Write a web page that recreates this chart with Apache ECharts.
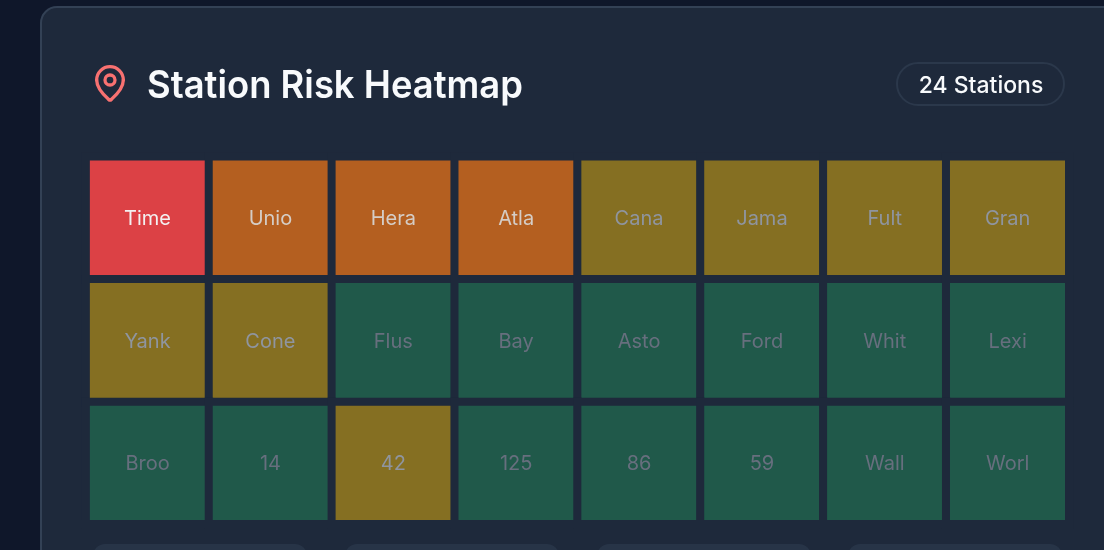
<!DOCTYPE html>
<html>
<head>
<meta charset="utf-8">
<style>html,body{margin:0;padding:0;background:#0f172a;overflow:hidden}#c{width:1104px;height:550px}</style>
<script src="https://cdn.jsdelivr.net/npm/echarts@6/dist/echarts.min.js"></script>
</head>
<body>
<div id="c"></div>
<script>
const stations = ['Time','Unio','Hera','Atla','Cana','Jama','Fult','Gran',
                  'Yank','Cone','Flus','Bay','Asto','Ford','Whit','Lexi',
                  'Broo','14','42','125','86','59','Wall','Worl'];
const riskLevels = [3,2,2,2,1,1,1,1,
                    1,1,0,0,0,0,0,0,
                    0,0,1,0,0,0,0,0];
const columns = ['1','2','3','4','5','6','7','8'];
const rows = ['1','2','3'];
const titleText = 'Station Risk Heatmap';
const badgeText = '24 Stations';
const cellColors = ['#20594a','#856f22','#b45f20','#dc4145'];
const textColors = ['#676f7e','#8f95a0','#d5cdc6','#f3f0f0'];
const CARD = '#1e293b';

const cells = stations.map((name, i) => {
  const lvl = riskLevels[i];
  return {
    value: [i % 8, Math.floor(i / 8), lvl],
    name: name,
    itemStyle: { color: cellColors[lvl] },
    label: { color: textColors[lvl] }
  };
});

const chart = echarts.init(document.getElementById('c'), null, {renderer:'canvas'});
const lowerCards = [93, 345, 597, 848].map(x => ({
  type:'rect', z:1, silent:true,
  shape:{x:x, y:544, width:214, height:40, r:12},
  style:{fill:'#273447'}
}));
const pinStyle = {fill:'none',stroke:'#f87171',lineWidth:3.3,lineCap:'round'};
chart.setOption({
  animation:false,
  backgroundColor:'#0f172a',
  grid:{left:86.1,top:156.7,width:983,height:368},
  xAxis:{type:'category',data:columns,show:false},
  yAxis:{type:'category',data:rows,inverse:true,show:false},
  series:[{
    type:'heatmap',
    data:cells,
    z:5,
    itemStyle:{borderColor:CARD,borderWidth:8},
    label:{show:true,formatter:p=>p.name,fontFamily:'Inter',fontSize:20,fontWeight:400,offset:[0,1]},
    emphasis:{disabled:true}
  }],
  graphic:[
    {type:'rect',z:0,silent:true,shape:{x:41,y:7,width:1100,height:600,r:16},
      style:{fill:CARD,stroke:'#334155',lineWidth:2}},
    ...lowerCards,
    {type:'rect',z:10,silent:true,shape:{x:1065,y:150,width:8,height:380},style:{fill:CARD}},
    {type:'rect',z:10,silent:true,shape:{x:80,y:520,width:993,height:8},style:{fill:CARD}},
    {type:'arc',z:3,silent:true,shape:{cx:110,cy:80,r:13.33,startAngle:Math.PI,endAngle:2*Math.PI,clockwise:true},style:pinStyle},
    {type:'bezierCurve',z:3,silent:true,shape:{x1:123.33,y1:80,cpx1:123.33,cpy1:88.32,cpx2:114.1,cpy2:97,x2:111,y2:99.67},style:pinStyle},
    {type:'bezierCurve',z:3,silent:true,shape:{x1:96.67,y1:80,cpx1:96.67,cpy1:88.32,cpx2:105.9,cpy2:97,x2:109,y2:99.67},style:pinStyle},
    {type:'bezierCurve',z:3,silent:true,shape:{x1:109,y1:99.67,cpx1:109.6,cpy1:100.3,cpx2:110.4,cpy2:100.3,x2:111,y2:99.67},style:pinStyle},
    {type:'circle',z:3,silent:true,shape:{cx:110,cy:80,r:5},style:pinStyle},
    {type:'text',z:4,silent:true,x:147,y:87,scaleX:0.958,
      style:{text:titleText,fill:'#f8fafc',font:'600 38px Inter',align:'left',verticalAlign:'middle'}},
    {type:'rect',z:3,silent:true,shape:{x:897,y:63,width:167,height:42,r:21},
      style:{fill:CARD,stroke:'#2b384b',lineWidth:2}},
    {type:'text',z:4,silent:true,x:981,y:86,
      style:{text:badgeText,fill:'#f8fafc',font:'500 23px Inter',align:'center',verticalAlign:'middle'}}
  ]
});
</script>
</body>
</html>
